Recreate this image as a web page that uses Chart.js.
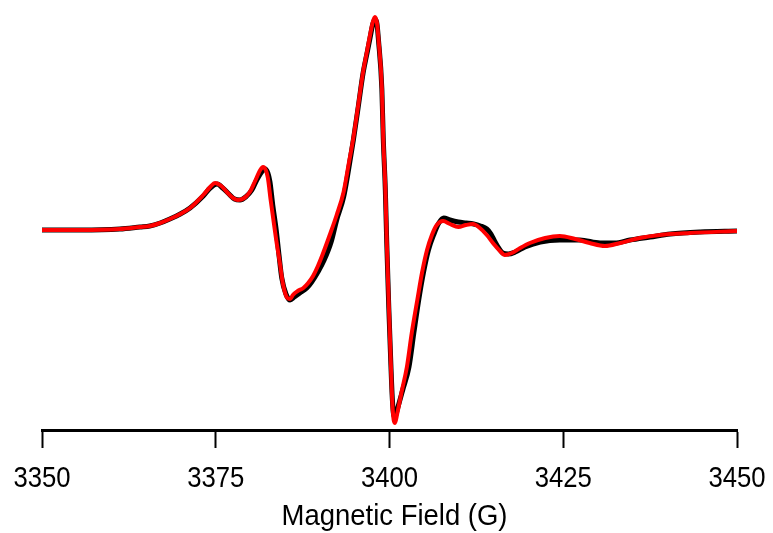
<!DOCTYPE html>
<html>
<head>
<meta charset="utf-8">
<script src="https://cdn.jsdelivr.net/npm/chart.js@4/dist/chart.umd.min.js"></script>
<style>
  html, body { margin: 0; padding: 0; background: #ffffff; }
  #wrap { width: 773px; height: 533px; }
</style>
</head>
<body>
<div id="wrap"><canvas id="c" width="773" height="533"></canvas></div>
<script>
// Magnetic field (G) and signal (arbitrary units)
const fieldBlack = [3350.0,3355.5,3361.2,3364.1,3365.5,3367.0,3368.4,3369.9,3371.3,3373.2,3374.2,3375.2,3376.0,3376.9,3377.7,3378.5,3379.3,3380.2,3380.9,3381.7,3382.1,3382.5,3382.8,3383.2,3383.7,3384.1,3384.5,3385.1,3385.7,3386.3,3387.1,3388.1,3388.8,3389.7,3390.6,3391.6,
  3392.4,3393.4,3394.1,3394.8,3395.5,3396.2,3396.8,3397.2,3397.6,3397.9,3398.2,3398.4,3398.9,3399.1,3399.4,3399.6,3399.9,3400.2,3400.4,3400.6,3400.8,3401.1,
  3401.9,3402.8,3403.5,3404.2,3404.9,3405.6,3406.4,3407.1,3407.8,3408.7,3409.9,3411.0,3412.1,3413.1,3414.0,3414.6,3415.2,3415.8,3416.3,3417.1,3418.1,3419.5,3421.7,3424.5,3427.4,3430.3,3432.4,3434.6,3437.5,3440.4,3444.7,3450.0];
const signalBlack = [0,0,1,3,4,7,11,16,22,34,42,46,42,36,31,30,33,40,50,59,61,57,48,25,0,-25,-48,-64,-70,-67,-63,-58,-52,-42,-30,-12,
  10,33,60,90,123,157,178,192,206,211,206,191,141,92,40,-12,-78,-135,-168,-185,-187,-180,
  -160,-137,-103,-70,-42,-20,-4,7,12,10,8,7,6,4,1,-4,-12,-19,-23,-24,-22,-17,-12,-10,-10,-13,-13,-10,-7,-4,-2,-1];

const fieldRed = [3350.0,3355.5,3361.2,3364.1,3365.5,3367.0,3368.4,3369.9,3371.3,3373.2,3374.2,3374.9,3375.8,3376.6,3377.5,3378.2,3379.1,3379.9,3380.6,3381.4,3381.8,3382.2,3382.5,3382.9,3383.2,3383.7,3384.2,3384.7,3385.3,3385.7,3386.1,3386.8,3387.6,3388.3,3389.0,3389.7,3390.4,
  3391.4,3392.4,3393.4,3394.1,3394.8,3395.5,3396.2,3396.8,3397.2,3397.6,3397.9,3398.2,3398.4,3398.9,3399.1,3399.4,3399.6,3399.9,3400.2,3400.4,3400.6,3400.8,3401.1,
  3401.8,3402.5,3403.2,3404.0,3404.7,3405.4,3406.1,3406.8,3407.7,3408.7,3409.9,3411.0,3412.0,3413.0,3414.0,3415.0,3415.9,3416.6,3417.6,3418.8,3420.2,3422.4,3424.5,3426.7,3428.8,3431.0,3433.2,3436.0,3438.9,3443.2,3450.0];
const signalRed = [0,0,1,3,4,7,11,16,22,35,43,47,44,38,32,30,32,38,48,60,63,60,52,30,15,-10,-32,-55,-68,-69,-65,-61,-58,-53,-46,-36,-24,
  -5,15,38,65,92,125,158,180,195,208,213,207,192,142,92,42,-10,-75,-135,-172,-190,-193,-184,
  -160,-137,-103,-70,-42,-20,-5,5,9,6,3,5,6,2,-5,-14,-21,-25,-23,-18,-13,-8,-6,-9,-13,-16,-13,-8,-5,-3,-1];

const xTickValues = [3350, 3375, 3400, 3425, 3450];
const xTitle = 'Magnetic Field (G)';

const toPoints = (xs, ys) => xs.map((x, i) => ({ x: x, y: ys[i] }));
const FONT = "'Liberation Sans', Arial, sans-serif";

// Draws the axis tick labels and the axis title in a condensed (narrow) face,
// positioned from the x scale itself.
const narrowAxisText = {
  id: 'narrowAxisText',
  afterDraw(chart) {
    const ctx = chart.ctx;
    const xs = chart.scales.x;
    const area = chart.chartArea;
    ctx.save();
    ctx.fillStyle = '#000000';
    ctx.textAlign = 'center';
    ctx.textBaseline = 'alphabetic';
    ctx.font = '30px ' + FONT;
    xTickValues.forEach((v) => {
      const px = xs.getPixelForValue(v);
      ctx.save();
      ctx.translate(px, area.bottom + 57);
      ctx.scale(0.855, 1);
      ctx.fillText(String(v), 0, 0);
      ctx.restore();
    });
    ctx.save();
    ctx.translate((area.left + area.right) / 2 + 5, area.bottom + 95);
    ctx.scale(0.916, 1);
    ctx.fillText(xTitle, 0, 0);
    ctx.restore();
    ctx.restore();
  }
};

new Chart(document.getElementById('c'), {
  type: 'line',
  data: {
    datasets: [
      {
        label: 'Experimental',
        data: toPoints(fieldBlack, signalBlack),
        borderColor: '#000000',
        borderWidth: 5,
        pointRadius: 0,
        cubicInterpolationMode: 'monotone',
        fill: false,
        order: 2
      },
      {
        label: 'Simulation',
        data: toPoints(fieldRed, signalRed),
        borderColor: '#ff0000',
        borderWidth: 4,
        pointRadius: 0,
        cubicInterpolationMode: 'monotone',
        fill: false,
        order: 1
      }
    ]
  },
  plugins: [narrowAxisText],
  options: {
    responsive: false,
    animation: false,
    events: [],
    layout: { padding: { left: 42, right: 36, top: 10, bottom: 85 } },
    plugins: { legend: { display: false }, tooltip: { enabled: false }, title: { display: false } },
    scales: {
      x: {
        type: 'linear',
        min: 3350,
        max: 3450,
        afterBuildTicks: (axis) => { axis.ticks = xTickValues.map(v => ({ value: v })); },
        grid: {
          display: true,
          drawOnChartArea: false,
          drawTicks: true,
          tickLength: 18,
          tickWidth: 2,
          tickColor: '#000000'
        },
        border: { display: true, color: '#000000', width: 3 },
        ticks: { display: false },
        title: { display: false }
      },
      y: {
        display: false,
        min: -200,
        max: 220
      }
    }
  }
});
</script>
</body>
</html>
